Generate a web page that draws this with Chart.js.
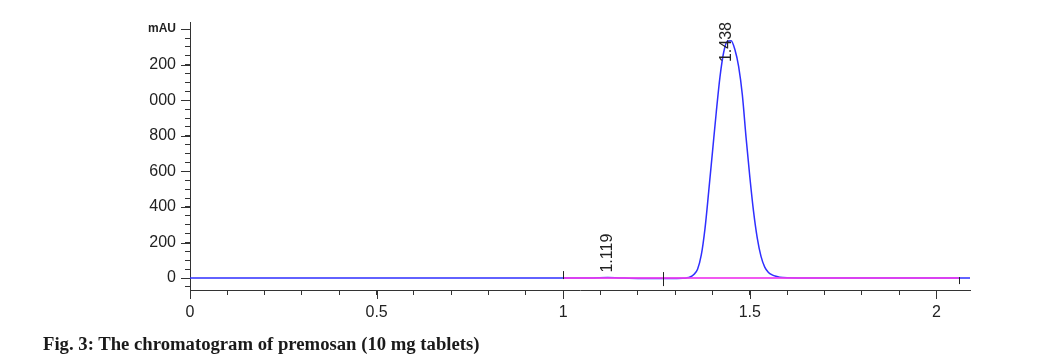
<!DOCTYPE html>
<html>
<head>
<meta charset="utf-8">
<script src="https://cdn.jsdelivr.net/npm/chart.js@4.4.1/dist/chart.umd.min.js"></script>
<style>
  html, body { margin: 0; padding: 0; background: #fff; }
  #wrap { position: relative; width: 1048px; height: 362px; }
  #c { position: absolute; left: 0; top: 0; }
  #caption { position: absolute; left: 43px; top: 333px; font-family: "Liberation Serif", "Times New Roman", serif; font-weight: bold; font-size: 18.7px; line-height: 1.15; color: #1a1a1a; white-space: nowrap; }
</style>
</head>
<body>
<div id="wrap">
  <canvas id="c" width="1048" height="362"></canvas>
  <div id="caption">Fig. 3: The chromatogram of premosan (10 mg tablets)</div>
</div>
<script>
// ---- data ----
const signalTimes = [0, 0.5, 1.0, 1.08, 1.119, 1.15, 1.20, 1.25, 1.30, 1.32, 1.33, 1.34, 1.35, 1.36, 1.37, 1.38, 1.39, 1.40, 1.41, 1.42, 1.43, 1.44, 1.45, 1.46, 1.47, 1.48, 1.49, 1.50, 1.51, 1.52, 1.53, 1.54, 1.55, 1.56, 1.57, 1.58, 1.60, 1.65, 1.80, 2.09];
const signalValues = [0, 0, 0, 1, 3, 1, -2, -3, -2, -1, 1, 6, 20, 50, 130, 280, 490, 710, 930, 1130, 1270, 1332, 1335, 1285, 1190, 1030, 790, 570, 375, 225, 122, 62, 32, 18, 10, 5, 2, 1, 0, 0];
const baselineTimes = [1.0, 2.06];
const baselineValues = [0, 0];
const eventTimes = [1.0, 1.268, 2.06];
const peakTimes = [1.119, 1.438];
const peakLabels = ['1.119', '1.438'];
const peakApex = [3, 1335];
const xMajorTicks = [0, 0.5, 1, 1.5, 2];
const xTickLabels = ['0', '0.5', '1', '1.5', '2'];
const yMajorTicks = [0, 200, 400, 600, 800, 1000, 1200, 1400];
const yTickLabels = ['0', '200', '400', '600', '800', '000', '200', 'mAU'];

const signalPts = signalTimes.map((t, i) => ({ x: t, y: signalValues[i] }));
const basePts = baselineTimes.map((t, i) => ({ x: t, y: baselineValues[i] }));

const extras = {
  id: 'extras',
  afterDatasetsDraw(chart) {
    const { ctx, chartArea } = chart;
    const xs = chart.scales.x, ys = chart.scales.y;
    ctx.save();
    ctx.strokeStyle = '#333';
    ctx.lineWidth = 1;
    // major ticks (longer)
    xMajorTicks.forEach(v => {
      const px = Math.round(xs.getPixelForValue(v)) + 0.5;
      ctx.beginPath(); ctx.moveTo(px, chartArea.bottom); ctx.lineTo(px, chartArea.bottom + 9); ctx.stroke();
    });
    yMajorTicks.forEach(v => {
      const py = Math.round(ys.getPixelForValue(v)) + 0.5;
      ctx.beginPath(); ctx.moveTo(chartArea.left - 9, py); ctx.lineTo(chartArea.left, py); ctx.stroke();
    });
    // integration event markers
    const y0 = ys.getPixelForValue(0);
    const ext = [[-7, 1], [-6, 8], [-1, 6]];
    ctx.strokeStyle = '#222';
    eventTimes.forEach((t, i) => {
      const px = Math.round(xs.getPixelForValue(t)) + 0.5;
      ctx.beginPath(); ctx.moveTo(px, y0 + ext[i][0]); ctx.lineTo(px, y0 + ext[i][1]); ctx.stroke();
    });
    // peak labels (rotated)
    ctx.font = '16px "Liberation Sans", Arial, sans-serif';
    ctx.fillStyle = '#222';
    ctx.textBaseline = 'middle';
    ctx.textAlign = 'left';
    peakTimes.forEach((t, i) => {
      const px = xs.getPixelForValue(t);
      const w = ctx.measureText(peakLabels[i]).width;
      let bottom = ys.getPixelForValue(peakApex[i]) - 5;
      if (bottom - w < chartArea.top) bottom = chartArea.top + w;
      ctx.save();
      ctx.translate(px, bottom);
      ctx.rotate(-Math.PI / 2);
      ctx.fillText(peakLabels[i], 0, 0);
      ctx.restore();
    });
    ctx.restore();
  }
};

new Chart(document.getElementById('c'), {
  type: 'line',
  data: {
    datasets: [
      { label: 'baseline', data: basePts, borderColor: 'rgba(238,60,238,0.85)', borderWidth: 2, pointRadius: 0, order: 0 },
      { label: 'signal', data: signalPts, borderColor: '#2f2fff', borderWidth: 1.5, pointRadius: 0, cubicInterpolationMode: 'monotone', order: 1 }
    ]
  },
  options: {
    responsive: false,
    devicePixelRatio: 1,
    animation: false,
    events: [],
    layout: { padding: { left: 0, top: 22, right: 78, bottom: 42 } },
    plugins: { legend: { display: false }, tooltip: { enabled: false }, title: { display: false } },
    scales: {
      x: {
        type: 'linear', min: 0, max: 2.09,
        border: { display: true, color: '#333', width: 1 },
        grid: { drawOnChartArea: false, drawTicks: true, tickLength: 5, tickColor: '#333' },
        ticks: {
          stepSize: 0.1, includeBounds: false, autoSkip: false, maxRotation: 0, padding: 8,
          color: '#222', font: { family: '"Liberation Sans", Arial, sans-serif', size: 16 },
          callback: (v) => {
            const i = xMajorTicks.findIndex(m => Math.abs(m - v) < 1e-6);
            return i >= 0 ? xTickLabels[i] : '';
          }
        },
        afterFit: (s) => { s.height = 30; }
      },
      y: {
        type: 'linear', min: -67, max: 1440,
        border: { display: true, color: '#333', width: 1 },
        grid: { drawOnChartArea: false, drawTicks: true, tickLength: 5, tickColor: '#333' },
        ticks: {
          stepSize: 50, includeBounds: false, autoSkip: false, padding: 9,
          color: '#222',
          font: (c) => {
            const isUnit = c.tick && Math.round(c.tick.value) === 1400;
            return { family: '"Liberation Sans", Arial, sans-serif', size: isUnit ? 12 : 16, weight: isUnit ? 'bold' : 'normal' };
          },
          callback: (v) => {
            const i = yMajorTicks.findIndex(m => Math.abs(m - v) < 1e-6);
            return i >= 0 ? yTickLabels[i] : '';
          }
        },
        afterFit: (s) => { s.width = 190; }
      }
    }
  },
  plugins: [extras]
});
</script>
</body>
</html>
